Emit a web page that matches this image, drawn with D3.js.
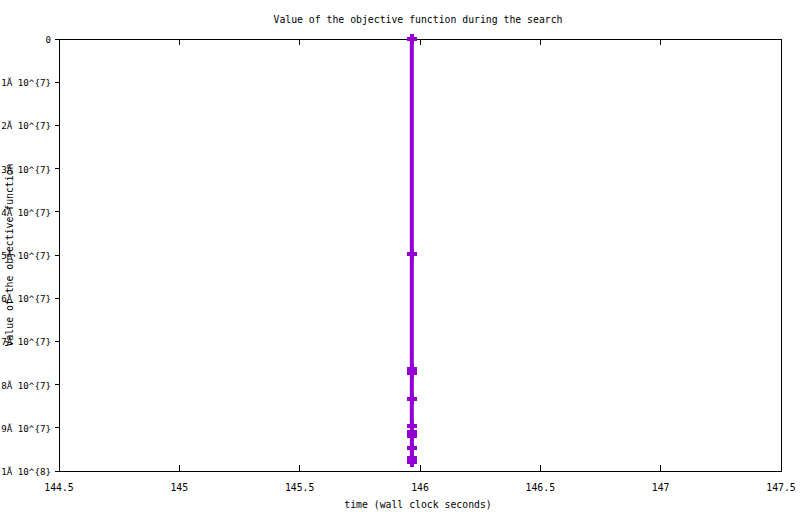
<!DOCTYPE html>
<html><head><meta charset="utf-8">
<script src="https://cdn.jsdelivr.net/npm/d3@7"></script>
<style>body{margin:0;background:#fff}svg{display:block}text{font-family:"DejaVu Sans Mono",monospace;font-size:9.8px;fill:#000}</style>
</head><body>
<script>
const times = [145.966,145.966,145.966,145.966,145.966,145.966,145.966,145.966,145.966,145.966,145.966];
const values = [0, 4.98e7, 7.64e7, 7.73e7, 8.33e7, 8.95e7, 9.10e7, 9.19e7, 9.47e7, 9.70e7, 9.79e7];
const xTicks = [144.5,145,145.5,146,146.5,147,147.5];
const yTicks = [0,1e7,2e7,3e7,4e7,5e7,6e7,7e7,8e7,9e7,1e8];
const yTickLabels = ["0","1Ă 10^{7}","2Ă 10^{7}","3Ă 10^{7}","4Ă 10^{7}","5Ă 10^{7}","6Ă 10^{7}","7Ă 10^{7}","8Ă 10^{7}","9Ă 10^{7}","1Ă 10^{8}"];
const title = "Value of the objective function during the search";
const xTitle = "time (wall clock seconds)";
const yTitle = "Value of the objective function";

const W=800,H=514, L=59,R=781,T=39,B=471;
const svg=d3.select("body").append("svg").attr("width",W).attr("height",H);
const x=d3.scaleLinear().domain([144.5,147.5]).range([L,R]);
const y=d3.scaleLinear().domain([0,1e8]).range([T,B]);
const color="#9400d3";

const tk=6;
const g=svg.append("g").attr("stroke","#000").attr("stroke-width",1).attr("shape-rendering","crispEdges");
xTicks.forEach(v=>{
  g.append("line").attr("x1",x(v)).attr("x2",x(v)).attr("y1",B).attr("y2",B-tk);
  g.append("line").attr("x1",x(v)).attr("x2",x(v)).attr("y1",T).attr("y2",T+tk);
});
yTicks.forEach(v=>{
  g.append("line").attr("x1",L-4).attr("x2",L).attr("y1",y(v)).attr("y2",y(v));
});
g.append("rect").attr("x",L).attr("y",T).attr("width",R-L).attr("height",B-T).attr("fill","none");

svg.append("g").selectAll("text").data(xTicks).join("text")
  .attr("x",d=>x(d)).attr("y",B+20).attr("text-anchor","middle").text(d=>d3.format("")(d));
svg.append("g").selectAll("text").data(yTicks).join("text")
  .attr("x",51).attr("y",(d)=>y(d)+4).attr("text-anchor","end")
  .style("font-size","9.2px").text((d,i)=>yTickLabels[i]);

svg.append("text").attr("x",418).attr("y",23).attr("text-anchor","middle").text(title);
svg.append("text").attr("x",418).attr("y",508).attr("text-anchor","middle").text(xTitle);
svg.append("text").attr("transform","translate(13,255) rotate(-90)").attr("text-anchor","middle").text(yTitle);

const pts=times.map((t,i)=>[t,values[i]]);
svg.append("path").datum(pts).attr("fill","none").attr("stroke",color).attr("stroke-width",4)
  .attr("d",d3.line().x(d=>x(d[0])).y(d=>y(d[1])));
const mk=svg.append("g").attr("fill",color).attr("shape-rendering","crispEdges");
pts.forEach(d=>{
  const cx=x(d[0]), cy=y(d[1]);
  mk.append("rect").attr("x",cx-5).attr("y",cy-2).attr("width",10).attr("height",4);
  mk.append("rect").attr("x",cx-2).attr("y",cy-5).attr("width",4).attr("height",10);
});
</script>
</body></html>
